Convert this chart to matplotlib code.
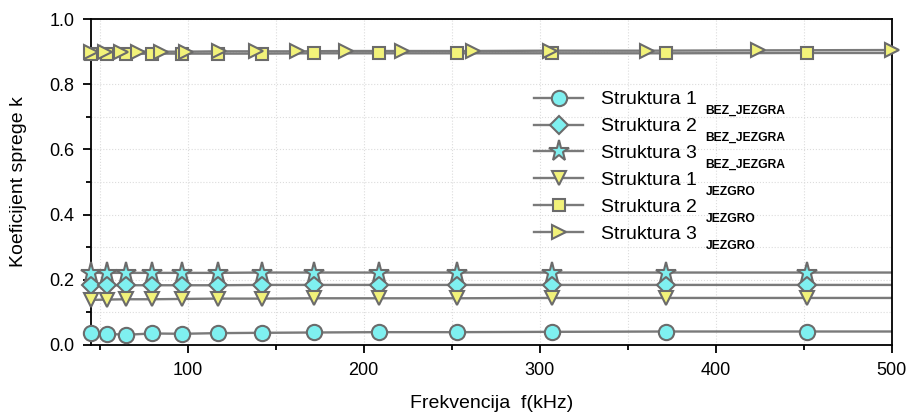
import matplotlib
matplotlib.use('Agg')
import matplotlib.pyplot as plt
from matplotlib.ticker import MultipleLocator, FormatStrFormatter
from matplotlib.transforms import IdentityTransform

plt.rcParams['font.family'] = ['Liberation Sans', 'DejaVu Sans']

# frekvencije (kHz)
freq_a = [45, 54, 65, 80, 97, 117, 142, 172, 209, 253, 307, 372, 452, 550]
freq_b = [45, 53, 62, 72, 85, 99, 118, 139, 162, 190, 222, 262, 306, 361, 424, 500]

# koeficijent sprege k
k_s1_bez = [0.037, 0.034, 0.031, 0.035, 0.034, 0.036, 0.037, 0.038, 0.039, 0.039, 0.040, 0.041, 0.041, 0.041]
k_s2_bez = [0.183, 0.183, 0.183, 0.183, 0.183, 0.183, 0.184, 0.184, 0.184, 0.184, 0.184, 0.184, 0.184, 0.184]
k_s3_bez = [0.221, 0.221, 0.221, 0.221, 0.221, 0.221, 0.222, 0.222, 0.222, 0.222, 0.222, 0.222, 0.222, 0.222]
k_s1_jez = [0.138, 0.139, 0.140, 0.140, 0.141, 0.142, 0.142, 0.143, 0.143, 0.143, 0.144, 0.144, 0.144, 0.144]
k_s2_jez = [0.893, 0.893, 0.893, 0.894, 0.894, 0.894, 0.894, 0.895, 0.895, 0.895, 0.895, 0.895, 0.896, 0.896]
k_s3_jez = [0.900, 0.900, 0.900, 0.900, 0.900, 0.900, 0.901, 0.901, 0.901, 0.902, 0.902, 0.902, 0.903, 0.903, 0.904, 0.905]

labels = ['Struktura 1', 'Struktura 2', 'Struktura 3',
          'Struktura 1', 'Struktura 2', 'Struktura 3']
subscripts = ['BEZ_JEZGRA', 'BEZ_JEZGRA', 'BEZ_JEZGRA',
              'JEZGRO', 'JEZGRO', 'JEZGRO']

cyan = '#7ff0f0'
yellow = '#f2f27a'
edge = '#6b6b6b'
linec = '#7a7a7a'

series = [
    (freq_a, k_s1_bez, 'o', cyan, 11),
    (freq_a, k_s2_bez, 'D', cyan, 9),
    (freq_a, k_s3_bez, '*', cyan, 15.5),
    (freq_a, k_s1_jez, 'v', yellow, 10.5),
    (freq_a, k_s2_jez, 's', yellow, 8.5),
    (freq_b, k_s3_jez, '>', yellow, 10.5),
]

xmin, xmax = 45, 500

fig = plt.figure(figsize=(9.08, 4.15), dpi=100)
ax = fig.add_axes([0.1, 0.169, 0.882, 0.785])

handles = []
for x, y, m, fc, ms in series:
    ln, = ax.plot(x, y, color=linec, lw=1.7, zorder=2)
    # markers only inside the x range, not clipped at the spines
    xs = [a for a in x if xmin <= a <= xmax]
    ys = [b for a, b in zip(x, y) if xmin <= a <= xmax]
    mk, = ax.plot(xs, ys, ls='none', marker=m, ms=ms, mfc=fc, mec=edge,
                  mew=1.5, clip_on=False, zorder=3)
    handles.append((ln, mk))

ax.set_xlim(xmin, xmax)
ax.set_ylim(0, 1.0)
ax.xaxis.set_major_locator(MultipleLocator(100))
ax.xaxis.set_minor_locator(MultipleLocator(50))
ax.yaxis.set_major_locator(MultipleLocator(0.2))
ax.yaxis.set_minor_locator(MultipleLocator(0.1))
ax.yaxis.set_major_formatter(FormatStrFormatter('%.1f'))

ax.grid(True, which='both', color='#dcdcdc', lw=0.8, ls=':')
ax.set_axisbelow(True)
ax.tick_params(which='both', direction='out', top=False, right=False,
               labelsize=13, width=1.3)
ax.tick_params(which='major', length=6, pad=6)
ax.tick_params(which='minor', length=3.5)
for s in ax.spines.values():
    s.set_linewidth(1.3)

ax.set_xlabel('Frekvencija  f(kHz)', fontsize=14, labelpad=12)
ax.set_ylabel('Koeficijent sprege k', fontsize=14, labelpad=16)

leg = ax.legend(handles, labels, loc='upper left', bbox_to_anchor=(0.554, 0.78),
                frameon=False, fontsize=14, handlelength=2.5, handletextpad=0.9,
                labelspacing=0.48, borderpad=0, borderaxespad=0)

# subscripts next to the legend texts
fig.canvas.draw()
renderer = fig.canvas.get_renderer()
for txt, sub in zip(leg.get_texts(), subscripts):
    bb = txt.get_window_extent(renderer)
    fig.text(bb.x1 + 9, bb.y0 + 3.5, sub, transform=IdentityTransform(),
             fontsize=8.7, fontweight='bold', ha='left', va='top')

plt.savefig('out.png', dpi=100)
